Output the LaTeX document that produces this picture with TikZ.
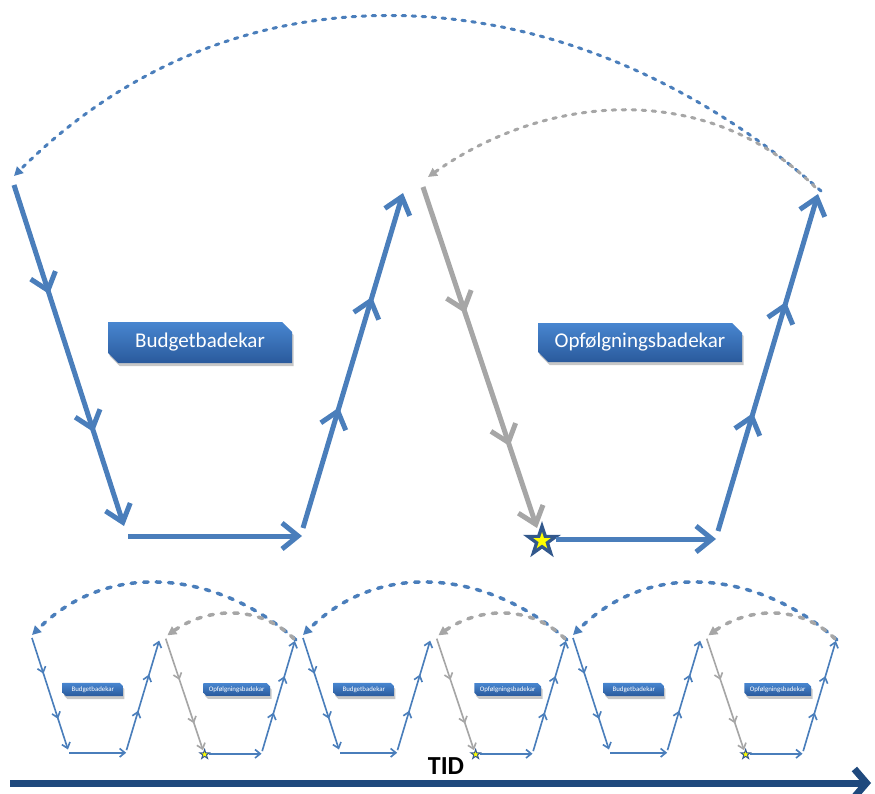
\documentclass[tikz,border=0pt]{standalone}
\usepackage{fontspec}
\setmainfont{Carlito}
\usetikzlibrary{arrows.meta,decorations.markings,shapes.geometric,shapes.misc,shadows}

\definecolor{tubblue}{RGB}{74,126,187}
\definecolor{tubgray}{RGB}{166,166,166}
\definecolor{boxtop}{RGB}{72,134,208}
\definecolor{boxbot}{RGB}{42,90,156}
\definecolor{stardark}{RGB}{50,88,140}
\definecolor{starlight}{RGB}{255,255,0}
\definecolor{timeblue}{RGB}{31,73,125}

\tikzset{
  barbtip/.style={-{Straight Barb[length=16pt,width=26pt,scale=\sc]}},
  flow/.style={color=#1, line width=\sc*5pt, barbtip},
  flow/.default=tubblue,
  midbarbs/.style 2 args={postaction={decorate},
    decoration={markings,
      mark=at position #1 with {\arrow{Straight Barb[length=16pt,width=26pt,scale=\sc]}},
      mark=at position #2 with {\arrow{Straight Barb[length=16pt,width=26pt,scale=\sc]}}}},
  loopback/.style={color=#1, line width=\aw pt, line cap=round,
    dash pattern=on \don pt off \doff pt,
    -{Triangle[length=9pt,width=9pt]}},
  tubbox/.style={chamfered rectangle,
    chamfered rectangle corners={north east,south west},
    chamfered rectangle xsep=5pt, chamfered rectangle ysep=5pt,
    inner sep=0pt, top color=boxtop, bottom color=boxbot, draw=none,
    text=white, font=\fontsize{21pt}{25pt}\selectfont,
    drop shadow={shadow xshift=1.5pt, shadow yshift=-3pt, fill=black, opacity=0.22}},
  startstar/.style={star, star points=5, star point ratio=2.6, inner sep=0pt,
    minimum size=#1},
}

% One budget/follow-up cycle; #1 name prefix, #2 #3 shift, #4 scale,
% #5 width of the dashed return arcs, #6 #7 their dash pattern
\newcommand\budgetcycle[7]{%
\begin{scope}[shift={(#2,#3)}, scale=#4, transform shape]
  \def\sc{#4}\def\aw{#5}\def\don{#6}\def\doff{#7}
  % budget tub
  \coordinate (#1-a) at (14,185);
  \coordinate (#1-b) at (124,526);
  \coordinate (#1-c) at (128,536);
  \coordinate (#1-d) at (302,536);
  \coordinate (#1-e) at (303,528);
  \coordinate (#1-f) at (403,193);
  % follow-up tub
  \coordinate (#1-g) at (423,187);
  \coordinate (#1-h) at (537,528);
  \coordinate (#1-i) at (556,539);
  \coordinate (#1-j) at (716,539);
  \coordinate (#1-k) at (718,531);
  \coordinate (#1-l) at (818,194);
  % return arcs
  \coordinate (#1-m) at (821,191);
  \coordinate (#1-n) at (14,176);
  \coordinate (#1-o) at (815,187);
  \coordinate (#1-p) at (428,177);

  \node[tubbox, minimum width=184pt, minimum height=41pt] (#1-box1) at (200,342.5) {Budgetbadekar};
  \node[tubbox, minimum width=204pt, minimum height=39pt] (#1-box2) at (640,342.5) {Opfølgningsbadekar};

  \draw[flow, midbarbs={0.32}{0.725}] (#1-a) -- (#1-b);
  \draw[flow] (#1-c) -- (#1-d);
  \draw[flow, midbarbs={0.36}{0.69}] (#1-e) -- (#1-f);

  \draw[flow=tubgray, midbarbs={0.37}{0.76}] (#1-g) -- (#1-h);
  \node[startstar=40pt, fill=stardark] (#1-s) at (542,541) {};
  \node[startstar=18pt, fill=starlight] (#1-si) at (#1-s.center) {};
  \draw[flow] (#1-i) -- (#1-j);
  \draw[flow, midbarbs={0.35}{0.68}] (#1-k) -- (#1-l);

  \draw[loopback=tubblue] (#1-m) .. controls (585,-19) and (249,-58) .. (#1-n);
  \draw[loopback=tubgray] (#1-o) .. controls (710,82) and (550,91) .. (#1-p);
\end{scope}}

\begin{document}
\begin{tikzpicture}[x=1pt,y=-1pt]
  \useasboundingbox (0,0) rectangle (875,794);

  \budgetcycle{big}{0}{0}{1}{3}{3.5}{6.5}
  \budgetcycle{c1}{27.4}{577.5}{0.327}{3.5}{4.5}{8}
  \budgetcycle{c2}{298.4}{577.5}{0.327}{3.5}{4.5}{8}
  \budgetcycle{c3}{568.4}{577.5}{0.327}{3.5}{4.5}{8}

  % time axis
  \coordinate (t0) at (10,783);
  \coordinate (t1) at (871,783);
  \draw[timeblue, line width=7pt, -{Straight Barb[length=12pt,width=28pt]}] (t0) -- (t1);
  \node[font=\fontsize{26pt}{30pt}\selectfont\bfseries, inner sep=0pt] (tid) at (446,766.5) {TID};
\end{tikzpicture}
\end{document}
